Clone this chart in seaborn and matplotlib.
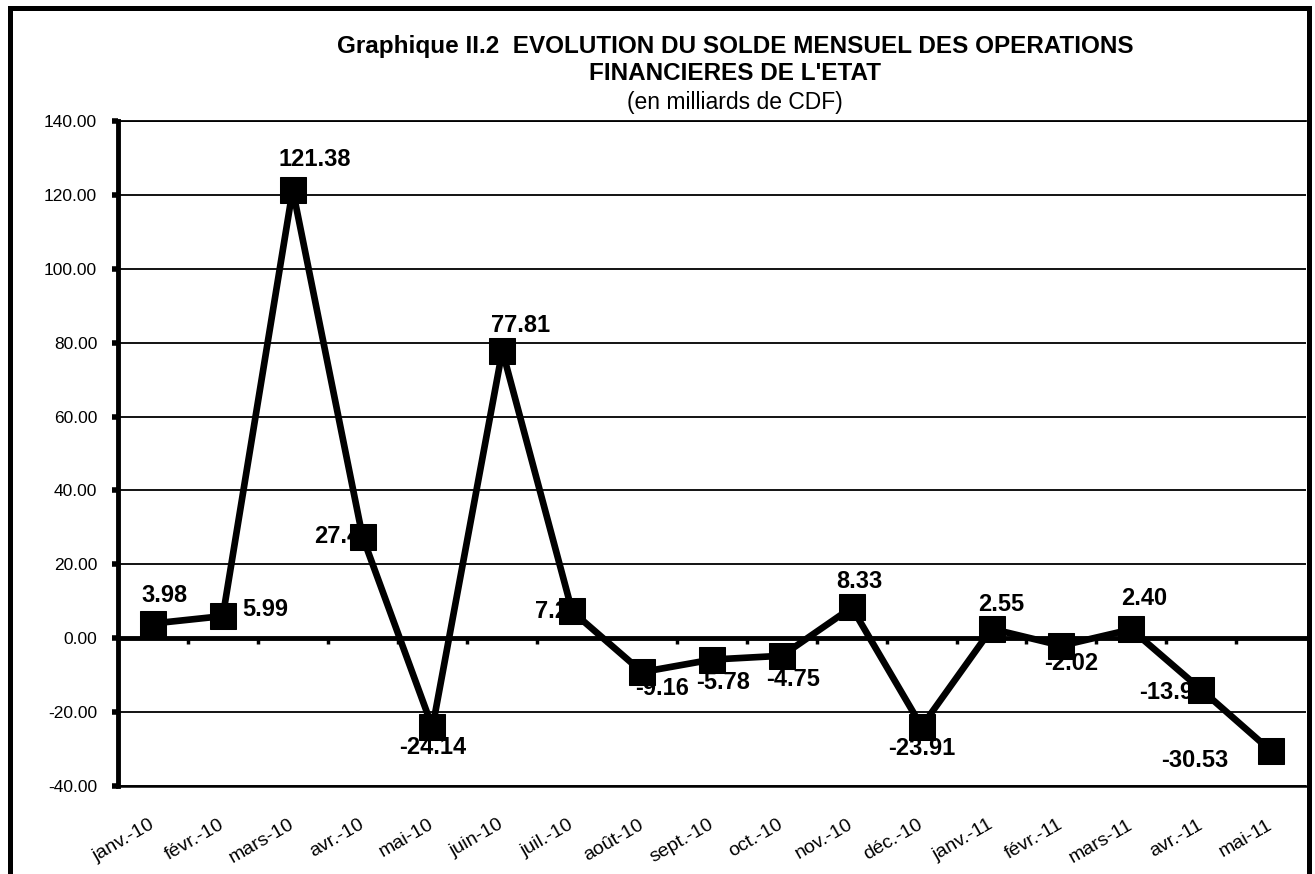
import numpy as np
import pandas as pd
import seaborn as sns
import matplotlib.pyplot as plt
from matplotlib.patches import Rectangle

mois = ["janv.-10", "févr.-10", "mars-10", "avr.-10", "mai-10", "juin-10",
        "juil.-10", "août-10", "sept.-10", "oct.-10", "nov.-10", "déc.-10",
        "janv.-11", "févr.-11", "mars-11", "avr.-11", "mai-11"]
solde = [3.98, 5.99, 121.38, 27.45, -24.14, 77.81, 7.25, -9.16, -5.78,
         -4.75, 8.33, -23.91, 2.55, -2.02, 2.40, -13.92, -30.53]

# label offsets in pixels (dx, dy) relative to each point
label_offsets = [(12, 28), (42, 7), (22, 30), (-19, 0), (0, -20), (18, 25),
                 (-14, 0), (20, -16), (11, -23), (11, -24), (8, 26), (0, -22),
                 (10, 24), (10, -18), (13, 31), (-28, -3), (-76, -9)]

df = pd.DataFrame({"mois": mois, "solde": solde})

sns.set_style("white")
plt.rcParams["font.family"] = ["Liberation Sans", "DejaVu Sans"]
plt.rcParams["text.color"] = "black"
plt.rcParams["xtick.color"] = "black"
plt.rcParams["ytick.color"] = "black"
plt.rcParams["axes.labelcolor"] = "black"

fig = plt.figure(figsize=(13.15, 8.74), dpi=100)
W, H = 1315, 874
ax = fig.add_axes([118 / W, 1 - 786 / H, (1306 - 118) / W, (786 - 121) / H])

sns.lineplot(data=df, x="mois", y="solde", sort=False, ax=ax, color="black",
             linewidth=4.8, marker="s", markersize=19, markeredgecolor="black",
             markerfacecolor="black", zorder=3)

for i, (m, v) in enumerate(zip(mois, solde)):
    dx, dy = label_offsets[i]
    ax.annotate(f"{v:.2f}", (i, v), xytext=(dx, dy), textcoords="offset pixels",
                ha="center", va="center", fontsize=17, fontweight="bold",
                color="black", zorder=2)

ax.set_xlim(-0.5, 16.5)
ax.set_ylim(-40, 140)
ax.set_yticks(np.arange(-40, 141, 20))
ax.set_yticklabels([f"{t:.2f}" for t in np.arange(-40, 141, 20)], fontsize=12.5)
ax.yaxis.grid(True, color="black", linewidth=1.3)
ax.set_axisbelow(True)
ax.set_xlabel("")
ax.set_ylabel("")

# zero line with ticks between months
ax.spines["bottom"].set_position(("data", 0))
ax.spines["bottom"].set_linewidth(3.5)
ax.spines["bottom"].set_color("black")
ax.spines["left"].set_linewidth(3.5)
ax.spines["left"].set_color("black")
ax.spines["top"].set_linewidth(1.3)
ax.spines["top"].set_color("black")
ax.spines["right"].set_visible(False)
ax.set_xticks(np.arange(0.5, 16, 1))
ax.tick_params(axis="x", bottom=True, length=4, width=2.5, color="black",
               direction="out", labelbottom=False)
ax.tick_params(axis="y", left=True, length=4, width=4, color="black",
               direction="out", pad=11)

# month labels on the -40 line
sec = ax.secondary_xaxis(0)
sec.set_xticks(np.arange(len(mois)), labels=mois)
sec.spines["bottom"].set_linewidth(1.8)
sec.spines["bottom"].set_color("black")
sec.tick_params(axis="x", length=0, pad=27, labelsize=14, colors="black")
for lbl in sec.get_xticklabels():
    lbl.set_rotation(30)
    lbl.set_ha("right")
    lbl.set_va("center")
    lbl.set_rotation_mode("anchor")

fig.text(0.559, 1 - 46 / H, "Graphique II.2  EVOLUTION DU SOLDE MENSUEL DES OPERATIONS",
         ha="center", va="center", fontsize=17.5, fontweight="bold")
fig.text(0.559, 1 - 74 / H, "FINANCIERES DE L'ETAT",
         ha="center", va="center", fontsize=17.5, fontweight="bold")
fig.text(0.559, 1 - 102 / H, "(en milliards de CDF)",
         ha="center", va="center", fontsize=16.5)

fig.add_artist(Rectangle((10 / W, -0.05), (1309 - 10) / W, 1.05 - 8 / H,
                         transform=fig.transFigure, fill=False,
                         edgecolor="black", linewidth=3.6))

fig.savefig("out.png", dpi=100)
